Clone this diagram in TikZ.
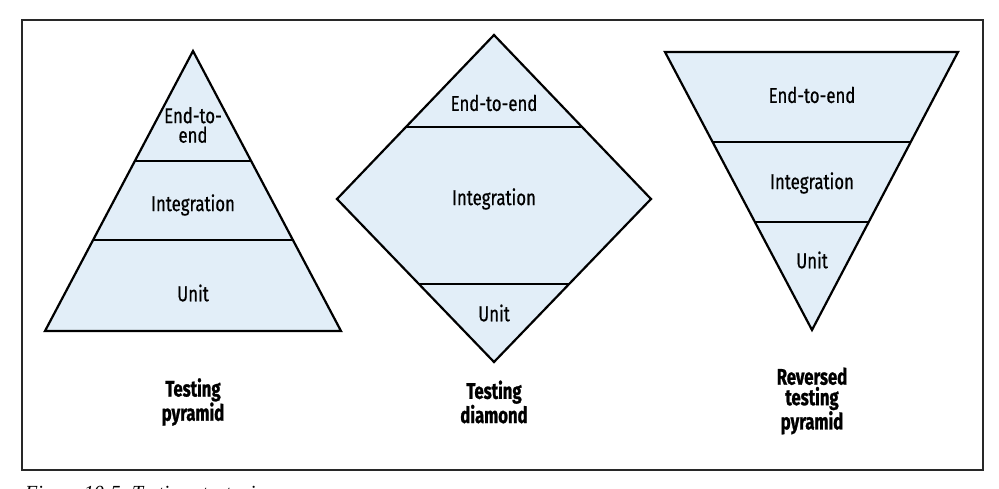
\documentclass[tikz,border=0pt]{standalone}
\usepackage{fontspec}
\setmainfont{Fira Sans}
\newfontfamily\tierfont[FakeStretch=0.78,FakeBold=0.6]{Fira Sans}
\newfontfamily\labelfont[FakeStretch=0.74,FakeBold=1]{Fira Sans}
\newfontfamily\capfont{Liberation Serif}
\usetikzlibrary{calc}
\definecolor{tierfill}{RGB}{226,238,248}
\definecolor{framegray}{RGB}{40,40,40}
\tikzset{
  tier/.style={draw=black, line width=2.2pt, fill=tierfill, line join=miter},
  divider/.style={draw=black, line width=2.2pt},
  tierlabel/.style={font=\tierfont\fontsize{21.5}{19.5}\selectfont, align=center, inner sep=0pt},
  shapelabel/.style={font=\labelfont\bfseries\fontsize{22.5}{20.5}\selectfont, align=center, inner sep=0pt},
}
\begin{document}
\begin{tikzpicture}[x=1pt,y=-1pt]
\useasboundingbox (0,0) rectangle (999,489);
% frame
\draw[framegray, line width=1.3pt] (22,20) rectangle (983,470);
% caption (cut by the page edge)
\node[anchor=base west, inner sep=0pt, font=\capfont\itshape\fontsize{20}{20}\selectfont] (caption) at (25,499) {Figure 10-5. Testing strategies};

% ---- testing pyramid
\coordinate (pA) at (193,51);
\coordinate (pL) at (45,331);
\coordinate (pR) at (341,331);
\path[tier] (pA) -- (pL) -- (pR) -- cycle;
\draw[divider] ($(pA)!0.393!(pL)$) -- ($(pA)!0.393!(pR)$);
\draw[divider] ($(pA)!0.675!(pL)$) -- ($(pA)!0.675!(pR)$);
\node[tierlabel] (pE) at (193,125) {End-to-\\end};
\node[tierlabel] (pI) at (193,205) {Integration};
\node[tierlabel] (pU) at (193,293) {Unit};
\node[shapelabel] (pT) at (193,402) {Testing\\pyramid};

% ---- testing diamond
\coordinate (dT) at (494,35);
\coordinate (dL) at (337,199);
\coordinate (dR) at (651,199);
\coordinate (dB) at (494,362);
\path[tier] (dT) -- (dL) -- (dB) -- (dR) -- cycle;
\draw[divider] ($(dT)!0.561!(dL)$) -- ($(dT)!0.561!(dR)$);
\draw[divider] ($(dB)!0.479!(dL)$) -- ($(dB)!0.479!(dR)$);
\node[tierlabel] (dE) at (494,103) {End-to-end};
\node[tierlabel] (dI) at (494,199) {Integration};
\node[tierlabel] (dU) at (494,313) {Unit};
\node[shapelabel] (dTx) at (494,402) {Testing\\diamond};

% ---- reversed testing pyramid
\coordinate (rL) at (665,52);
\coordinate (rR) at (958,52);
\coordinate (rV) at (812,330);
\path[tier] (rL) -- (rR) -- (rV) -- cycle;
\draw[divider] ($(rV)!0.676!(rL)$) -- ($(rV)!0.676!(rR)$);
\draw[divider] ($(rV)!0.388!(rL)$) -- ($(rV)!0.388!(rR)$);
\node[tierlabel] (rE) at (812,95) {End-to-end};
\node[tierlabel] (rI) at (812,183) {Integration};
\node[tierlabel] (rU) at (812,260) {Unit};
\node[shapelabel] (rT) at (812,401) {Reversed\\testing\\pyramid};
\end{tikzpicture}
\end{document}
